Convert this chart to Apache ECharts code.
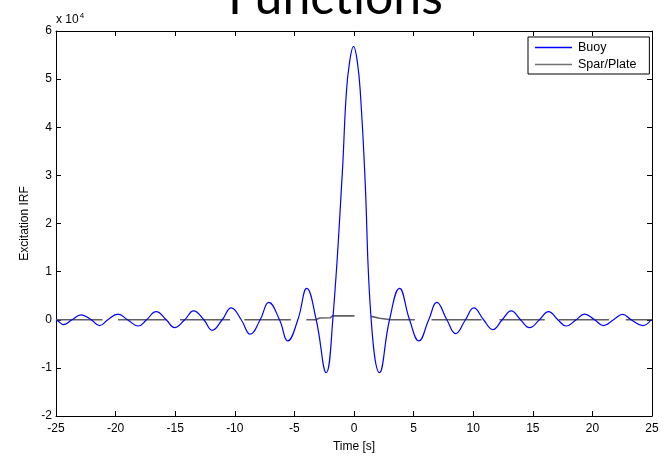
<!DOCTYPE html>
<html>
<head>
<meta charset="utf-8">
<script src="https://cdn.jsdelivr.net/npm/echarts@6/dist/echarts.min.js"></script>
<style>html,body{margin:0;padding:0;background:#fff;}#c{width:671px;height:458px;}</style>
</head>
<body>
<div id="c"></div>
<script>
// Time [s] and excitation IRF values
const buoyT = [-25.0,-24.75,-24.4,-23.65,-22.9,-22.05,-21.35,-20.65,-19.8,-19.0,-18.1,-17.4,-16.6,-15.75,-15.06,-14.2,-13.46,-12.6,-11.9,-11.06,-10.3,-9.46,-8.71,-7.87,-7.15,-6.25,-5.55,-4.71,-3.96,-3.17,-2.33,-1.78,-0.99,-0.66,-0.38,-0.04,0.29,0.55,0.91,1.44,2.14,2.98,3.82,4.66,5.44,6.27,6.95,7.79,8.52,9.35,10.05,10.87,11.65,12.43,13.19,13.97,14.72,15.56,16.32,17.1,17.8,18.64,19.34,20.18,20.93,21.77,22.55,23.25,24.23,24.93];
const buoyV = [0,-400,-1000,0,1000,0,-1200,0,1170,0,-1300,0,1700,0,-1640,0,1850,0,-2200,0,2460,0,-3000,0,3600,0,-4400,0,6500,0,-11000,0,30100,46500,53400,56800,53400,46500,30100,0,-11000,0,6500,0,-4400,0,3600,0,-2900,0,2460,0,-2050,0,1850,0,-1640,0,1700,0,-1300,0,1170,0,-1200,0,1100,0,-1200,0];
const sparT = [-25,-21.1,-20.5,-19.8,-15.75,-15.2,-14.6,-10.4,-9.8,-9.2,-5.3,-4.6,-4.0,-3.2,-2.9,-2.0,-1.8,0.04,0.7,1.44,2.14,3.1,5.1,5.8,6.5,10.7,11.4,12.2,16.0,16.6,17.2,21.4,22.1,22.8,25];
const sparV = [0,0,null,0,0,null,0,0,null,0,0,null,0,0,350,400,800,800,null,700,300,0,0,null,0,0,null,0,0,null,0,0,null,0,0];
const xTicks = [-25,-20,-15,-10,-5,0,5,10,15,20,25];
const yTickLabels = ['-2','-1','0','1','2','3','4','5','6'];

const buoy = buoyT.map((t,i)=>[t,buoyV[i]]);
const spar = sparT.map((t,i)=>[t,sparV[i]]);

const font = 'Liberation Sans Narrow, Liberation Sans, Arial, sans-serif';
const chart = echarts.init(document.getElementById('c'), null, {renderer:'canvas'});
const gridPos = {left:56, right:19, top:31, bottom:37};
chart.setOption({
  animation:false,
  backgroundColor:'#fff',
  title:{text:'Functions', left:'center', top:-32, textStyle:{fontFamily:'Lato, Open Sans, sans-serif', fontSize:50, fontWeight:'normal', color:'#000', lineHeight:50}},
  graphic:[{type:'text', left:56, top:12, style:{text:'x 10{s|4}', rich:{s:{fontSize:8, verticalAlign:'top', padding:[0,0,8,1]}}, font:'12px '+font, fill:'#000'}}],
  legend:{orient:'vertical', left:528, top:37, backgroundColor:'#fff', borderColor:'#000', borderWidth:1, borderRadius:0,
    padding:[4,13,3,7], itemGap:4, itemWidth:37, itemHeight:1.5, icon:'rect',
    itemStyle:{borderWidth:0},
    textStyle:{fontFamily:font, fontSize:12.5, color:'#000', padding:[0,0,0,1]},
    data:[{name:'Buoy', itemStyle:{color:'#0000ff'}},
          {name:'Spar/Plate', itemStyle:{color:'#707070'}}]},
  grid:gridPos,
  xAxis:[{type:'value', min:-25, max:25, interval:5, position:'bottom',
      name:'Time [s]', nameLocation:'middle', nameGap:25, nameTextStyle:{fontFamily:font, fontSize:12, color:'#000'},
      axisLine:{onZero:false, lineStyle:{color:'#000', width:1}}, axisTick:{inside:true, length:5, lineStyle:{color:'#000'}},
      axisLabel:{fontFamily:font, fontSize:12, color:'#000', margin:7}, splitLine:{show:false}},
    {type:'value', min:-25, max:25, interval:5, position:'top',
      axisLine:{onZero:false, lineStyle:{color:'#000'}}, axisTick:{inside:true, length:5, lineStyle:{color:'#000'}}, axisLabel:{show:false}, splitLine:{show:false}}],
  yAxis:[{type:'value', min:-20000, max:60000, interval:10000, position:'left',
      name:'Excitation IRF', nameLocation:'middle', nameGap:23, nameTextStyle:{fontFamily:font, fontSize:12, color:'#000'},
      axisLine:{show:true, onZero:false, lineStyle:{color:'#000'}}, axisTick:{show:true, inside:true, length:5, lineStyle:{color:'#000'}},
      axisLabel:{fontFamily:font, fontSize:12, color:'#000', margin:4, formatter:(v)=>yTickLabels[Math.round(v/10000)+2]}, splitLine:{show:false}},
    {type:'value', min:-20000, max:60000, interval:10000, position:'right',
      axisLine:{show:true, onZero:false, lineStyle:{color:'#000'}}, axisTick:{show:true, inside:true, length:5, lineStyle:{color:'#000'}}, axisLabel:{show:false}, splitLine:{show:false}}],
  series:[
    {name:'Buoy', type:'line', data:buoy, symbol:'none', smooth:0.45, color:'#0000ff', lineStyle:{color:'#0000ff', width:1.2}, itemStyle:{color:'#0000ff'}, z:3},
    {name:'Spar/Plate', type:'line', data:spar, symbol:'none', connectNulls:false, color:'#707070', lineStyle:{color:'#606060', width:1.6}, itemStyle:{color:'#707070'}, z:2}
  ]
});
</script>
</body>
</html>
